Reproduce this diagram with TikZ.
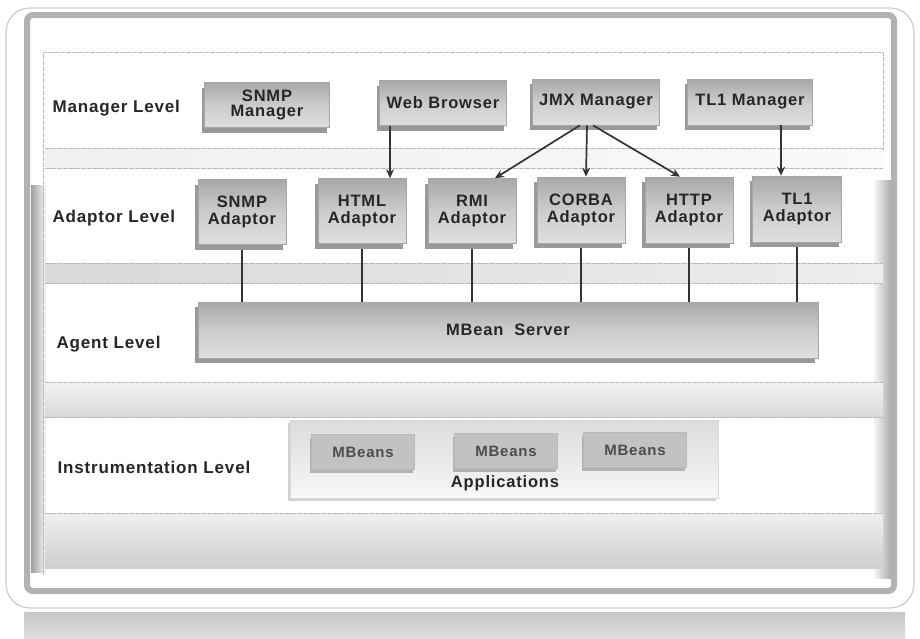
\documentclass[tikz,border=0pt]{standalone}
\usepackage{fontspec}
\setmainfont{Liberation Sans}
\newfontfamily\widesans[LetterSpace=5]{Liberation Sans}
\usetikzlibrary{shadows,arrows.meta}

\tikzset{
  lvl/.style={anchor=west, font=\widesans\fontsize{17}{19}\selectfont\bfseries, text=black!85},
  bevelbox/.style={draw=gray!70, line width=0.6pt, top color=gray!68, bottom color=gray!25,
    middle color=gray!40, align=center, inner sep=1pt,
    font=\widesans\fontsize{16.5}{18}\selectfont\bfseries, text=black!85,
    drop shadow={shadow xshift=-3pt, shadow yshift=-5pt, fill=gray!80, opacity=1}},
  beanbox/.style={draw=gray!55, line width=0.5pt, fill=gray!48, minimum width=103pt,
    minimum height=35pt, font=\widesans\fontsize{15}{17}\selectfont\bfseries, text=black!70,
    drop shadow={shadow xshift=-2pt, shadow yshift=-3pt, fill=gray!60, opacity=1}},
  arr/.style={line width=1.7pt, draw=black!80, -{Stealth[length=9pt,width=8pt]}},
  link/.style={line width=1.8pt, draw=black!80},
  sep/.style={draw=gray!55, line width=0.8pt, dash pattern=on 5pt off 1pt},
}

\begin{document}
\begin{tikzpicture}[x=1pt, y=-1pt]
\useasboundingbox (0,0) rectangle (920,638);

% outer card and its shadow
\shade[top color=gray!45, bottom color=gray!25] (24,612) rectangle (905,638);
\draw[gray!40, line width=1.2pt, fill=white, rounded corners=24pt] (6,8) rectangle (914,608);

% main frame
\draw[gray!60, line width=6pt, fill=white, rounded corners=6pt] (27,15) rectangle (894,591);

% side shading strips
\shade[left color=gray!75, right color=white] (31,185) rectangle (47,572);
\shade[left color=white, right color=gray!65] (872,180) rectangle (891,578);

% level separator bands
\shade[left color=gray!12, right color=gray!4] (45,148) rectangle (883,168);
\shade[left color=gray!30, right color=gray!14] (45,263) rectangle (883,283);
\shade[top color=gray!10, bottom color=gray!30] (45,382) rectangle (883,417);
\shade[top color=gray!12, bottom color=gray!38] (45,513) rectangle (883,568);

\draw[sep] (43,575) -- (43,52) -- (883,52) -- (883,150);
\foreach \yy in {148,168,263,283,382,417,513}
  \draw[sep] (45,\yy) -- (883,\yy);

% level labels
\node[lvl] (lman) at (49,108) {Manager Level};
\node[lvl] (ladp) at (49,218) {Adaptor Level};
\node[lvl] (lagt) at (53,344) {Agent Level};
\node[lvl] (lins) at (54,467) {Instrumentation Level};

% manager level
\node[bevelbox, minimum width=125pt, minimum height=45pt] (snmpm) at (267,105) {SNMP\\[-3pt]Manager};
\node[bevelbox, minimum width=127pt, minimum height=45pt] (web) at (443,103) {Web Browser};
\node[bevelbox, minimum width=127pt, minimum height=46pt] (jmx) at (596,102) {JMX Manager};
\node[bevelbox, minimum width=125pt, minimum height=46pt] (tl1m) at (750,102) {TL1 Manager};

% adaptor level
\node[bevelbox, minimum width=88pt, minimum height=65pt] (snmpa) at (242,212) {SNMP\\[-1pt]Adaptor};
\node[bevelbox, minimum width=88pt, minimum height=65pt] (html) at (362,211) {HTML\\[-1pt]Adaptor};
\node[bevelbox, minimum width=88pt, minimum height=65pt] (rmi) at (472,211) {RMI\\[-1pt]Adaptor};
\node[bevelbox, minimum width=88pt, minimum height=66pt] (corba) at (581,210) {CORBA\\[-1pt]Adaptor};
\node[bevelbox, minimum width=88pt, minimum height=66pt] (http) at (689,210) {HTTP\\[-1pt]Adaptor};
\node[bevelbox, minimum width=89pt, minimum height=66pt] (tl1a) at (797,209) {TL1\\[-1pt]Adaptor};

% agent level
\node[bevelbox, minimum width=620pt, minimum height=56pt] (mbs) at (508,330) {MBean\ \ Server};

% instrumentation level
\node[draw=gray!30, line width=0.5pt, top color=gray!28, bottom color=gray!6,
  minimum width=428pt, minimum height=78pt,
  drop shadow={shadow xshift=-2pt, shadow yshift=-3pt, fill=gray!35, opacity=1}] (apps) at (504,459) {};
\node[beanbox] (mb1) at (363,452) {MBeans};
\node[beanbox] (mb2) at (506,451) {MBeans};
\node[beanbox] (mb3) at (635,450) {MBeans};
\node[font=\widesans\fontsize{16.5}{18}\selectfont\bfseries, text=black!85] (appl) at (505,483) {Applications};

% manager to adaptor connectors
\draw[arr] ([xshift=-53pt]web.south) -- ([xshift=28pt]html.north);
\draw[arr] ([xshift=-16pt]jmx.south) -- ([xshift=23pt]rmi.north);
\draw[arr] ([xshift=-9pt]jmx.south) -- ([xshift=5pt]corba.north);
\draw[arr] ([xshift=-3pt]jmx.south) -- ([xshift=-9pt]http.north);
\draw[arr] ([xshift=31pt]tl1m.south) -- ([xshift=-16pt]tl1a.north);

% adaptors to the MBean server
\foreach \ad in {snmpa,html,rmi,corba,http,tl1a}
  \draw[link] ([yshift=-5pt]\ad.south) -- (\ad.south |- mbs.north);
\end{tikzpicture}
\end{document}
